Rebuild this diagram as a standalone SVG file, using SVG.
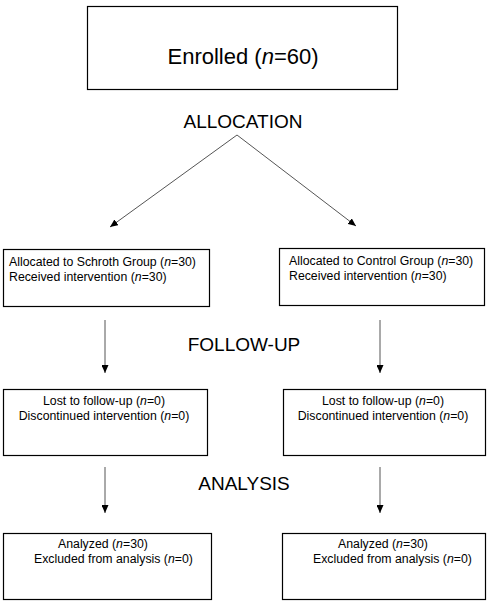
<svg xmlns="http://www.w3.org/2000/svg" width="488" height="605" viewBox="0 0 488 605">
<style>
  .box { fill: #ffffff; stroke: #000000; stroke-width: 1.2; }
  .t { font-family: "Liberation Sans", Arial, sans-serif; fill: #000000; }
  .big { font-size: 22px; }
  .hdr { font-size: 19px; }
  .sm { font-size: 12.3px; }
  .conn { stroke: #555555; stroke-width: 1; fill: none; marker-end: url(#ah); }
</style>
<defs>
  <marker id="ah" markerUnits="userSpaceOnUse" markerWidth="9" markerHeight="7" refX="8" refY="3.5" orient="auto">
    <path d="M0,0 L8,3.5 L0,7 z" fill="#000000"/>
  </marker>
</defs>
<rect width="488" height="605" fill="#ffffff"/>

<g id="enrolled">
  <rect class="box" x="87.5" y="6.5" width="310" height="83"/>
  <text class="t big" x="243" y="64" text-anchor="middle">Enrolled (<tspan font-style="italic">n</tspan>=60)</text>
</g>

<g id="labels">
  <text class="t hdr" x="243" y="128" text-anchor="middle">ALLOCATION</text>
  <text class="t hdr" x="244" y="351" text-anchor="middle">FOLLOW-UP</text>
  <text class="t hdr" x="244" y="490" text-anchor="middle">ANALYSIS</text>
</g>

<g id="alloc-schroth">
  <rect class="box" x="3.5" y="249.5" width="206" height="57"/>
  <text class="t sm" x="9" y="266">Allocated to Schroth Group (<tspan font-style="italic">n</tspan>=30)</text>
  <text class="t sm" x="9" y="281">Received intervention (<tspan font-style="italic">n</tspan>=30)</text>
</g>

<g id="alloc-control">
  <rect class="box" x="279.5" y="248.5" width="205" height="57"/>
  <text class="t sm" x="289" y="265">Allocated to Control Group (<tspan font-style="italic">n</tspan>=30)</text>
  <text class="t sm" x="289" y="280">Received intervention (<tspan font-style="italic">n</tspan>=30)</text>
</g>

<g id="follow-schroth">
  <rect class="box" x="3.5" y="389.5" width="204" height="66"/>
  <text class="t sm" x="104" y="405" text-anchor="middle">Lost to follow-up (<tspan font-style="italic">n</tspan>=0)</text>
  <text class="t sm" x="104" y="420" text-anchor="middle">Discontinued intervention (<tspan font-style="italic">n</tspan>=0)</text>
</g>

<g id="follow-control">
  <rect class="box" x="283.5" y="389.5" width="202" height="66"/>
  <text class="t sm" x="383" y="405" text-anchor="middle">Lost to follow-up (<tspan font-style="italic">n</tspan>=0)</text>
  <text class="t sm" x="383" y="420" text-anchor="middle">Discontinued intervention (<tspan font-style="italic">n</tspan>=0)</text>
</g>

<g id="analysis-schroth">
  <rect class="box" x="3.5" y="533.5" width="208" height="66"/>
  <text class="t sm" x="58" y="548">Analyzed (<tspan font-style="italic">n</tspan>=30)</text>
  <text class="t sm" x="34" y="563">Excluded from analysis (<tspan font-style="italic">n</tspan>=0)</text>
</g>

<g id="analysis-control">
  <rect class="box" x="282.5" y="533.5" width="203" height="66"/>
  <text class="t sm" x="338" y="548">Analyzed (<tspan font-style="italic">n</tspan>=30)</text>
  <text class="t sm" x="313" y="563">Excluded from analysis (<tspan font-style="italic">n</tspan>=0)</text>
</g>

<g id="connectors">
  <line class="conn" x1="237" y1="135" x2="110" y2="227"/>
  <line class="conn" x1="237" y1="135" x2="356" y2="226"/>
  <line class="conn" x1="105" y1="320" x2="105" y2="373"/>
  <line class="conn" x1="380" y1="320" x2="380" y2="373"/>
  <line class="conn" x1="105" y1="467" x2="105" y2="513"/>
  <line class="conn" x1="380" y1="467" x2="380" y2="513"/>
</g>
</svg>
